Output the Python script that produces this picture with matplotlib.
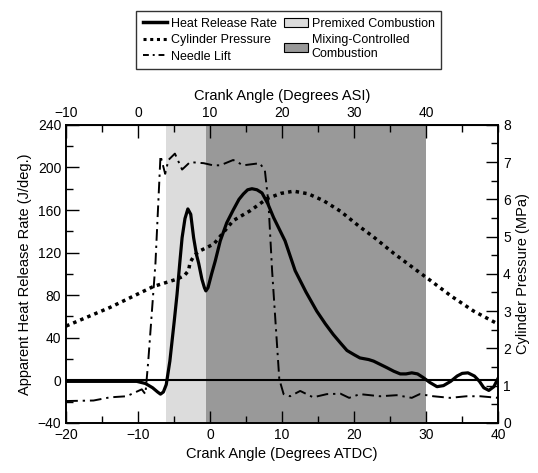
import matplotlib.pyplot as plt
from matplotlib.patches import Patch
from matplotlib.lines import Line2D
from matplotlib.ticker import MultipleLocator

plt.rcParams['font.family'] = ['Liberation Sans', 'DejaVu Sans']

# heat release rate (J/deg) vs crank angle (deg ATDC)
hrr_x = [-20, -15, -10.2, -9.0, -8.0, -7.3, -6.9, -6.5, -6.1, -5.6, -5.0, -4.6, -4.2,
         -3.9, -3.5, -3.1, -2.7, -2.3, -1.9, -1.6, -1.15, -0.8, -0.6, -0.3, 0.2, 0.7,
         1.4, 2.3, 3.2, 4.0, 4.6, 5.2, 5.8, 6.5, 7.2, 8.0, 8.8, 10.4, 11.8, 13.3,
         14.8, 16.0, 17.1, 18.1, 19.0, 20.0, 20.8, 22.0, 22.7, 23.6, 24.5, 25.5,
         26.4, 27.2, 28.0, 28.8, 29.6, 30.5, 31.5, 32.4, 33.4, 34.3, 35.0, 35.8,
         36.7, 37.4, 38.0, 38.7, 39.4, 40]
hrr_y = [-1, -1, -1, -3, -7, -11, -13, -11, -4, 18, 55, 81, 112,
         134, 152, 161, 156, 134, 118, 110, 95, 87, 84, 87, 100, 112,
         131, 148, 160, 170, 175, 179, 180, 179, 176, 166, 153, 131, 103, 83,
         65, 53, 43, 35, 28, 24, 21, 19.5, 18, 15, 12, 8.5,
         6, 6, 7, 6, 2.5, -2, -6, -5, -1, 4, 6.5, 7,
         4, -1, -7, -9.5, -6, 2]

# cylinder pressure (MPa)
p_x = [-20, -13.9, -7.9, -4.6, -3.6, -3.0, -2.8, -2.2, -1.4, 0.5, 3.2, 5.6, 7.9,
       9.8, 11.6, 13.6, 15.7, 18.1, 20.8, 22.7, 25.5, 28.7, 30.6, 33.5, 36.6, 40]
p_y = [2.6, 3.1, 3.66, 3.86, 3.95, 4.09, 4.3, 4.5, 4.62, 4.8, 5.43, 5.7, 6.02,
       6.16, 6.22, 6.15, 5.97, 5.68, 5.26, 4.99, 4.55, 4.09, 3.82, 3.4, 3.0, 2.65]

# needle lift (plotted on the HRR scale)
n_x = [-20, -16.2, -13.9, -11.6, -9.5, -9.0, -8.6, -7.6, -6.9, -6.25, -5.8, -4.9,
       -3.9, -2.8, -0.9, 0.4, 1.4, 3.2, 4.6, 6.9, 7.6, 8.1, 8.6, 9.6, 10.2, 11.1,
       12.5, 14.3, 16.2, 18.1, 19.3, 20.8, 23.6, 25.9, 28.0, 29.1, 31.0, 33.3,
       35.6, 37.5, 40]
n_y = [-19.5, -19, -16, -15, -8.5, -13, 18, 110, 211, 194, 207, 213,
       198, 205, 204, 202, 202, 207, 202, 204, 197, 166, 103, 1, -13, -15,
       -10, -16, -13, -12.6, -16.5, -13, -15, -14, -16.5, -13, -15, -16.5,
       -15, -15, -16.5]

premixed = (-6.1, -0.6)
mixing = (-0.6, 30)

fig = plt.figure(figsize=(5.38, 4.73), dpi=100)
ax = fig.add_axes([0.123, 0.106, 0.803, 0.630])

ax.axvspan(*premixed, color='#dcdcdc', lw=0, zorder=0)
ax.axvspan(*mixing, color='#999999', lw=0, zorder=0)
ax.axhline(0, color='black', lw=1.5, zorder=2)
ax.plot(hrr_x, hrr_y, color='black', lw=2.3, zorder=3, solid_joinstyle='round')
ax.plot(n_x, n_y, color='black', lw=1.4, ls=(0, (6, 2.5, 1.2, 2.5)), zorder=3)

ax.set_xlim(-20, 40)
ax.set_ylim(-40, 240)
ax.xaxis.set_major_locator(MultipleLocator(10))
ax.xaxis.set_minor_locator(MultipleLocator(5))
ax.yaxis.set_major_locator(MultipleLocator(40))
ax.yaxis.set_minor_locator(MultipleLocator(20))
ax.tick_params(which='both', direction='in', labelsize=10, top=False, right=False)
ax.tick_params(which='major', length=9, width=1)
ax.tick_params(which='minor', length=5, width=1)
ax.set_xlabel('Crank Angle (Degrees ATDC)', fontsize=10.5)
ax.set_ylabel('Apparent Heat Release Rate (J/deg.)', fontsize=10.5)

ax2 = ax.twinx()
ax2.plot(p_x, p_y, color='black', lw=2.5, ls=(0, (1, 1.2)), zorder=3)
ax2.set_ylim(0, 8)
ax2.yaxis.set_major_locator(MultipleLocator(1))
ax2.yaxis.set_minor_locator(MultipleLocator(0.5))
ax2.tick_params(which='both', direction='in', labelsize=10)
ax2.tick_params(which='major', length=9, width=1)
ax2.tick_params(which='minor', length=5, width=1)
ax2.set_ylabel('Cylinder Pressure (MPa)', fontsize=10.5)

top = ax.secondary_xaxis('top', functions=(lambda x: x + 10, lambda x: x - 10))
top.set_xticks([-10, 0, 10, 20, 30, 40])
top.xaxis.set_minor_locator(MultipleLocator(5))
top.tick_params(which='both', direction='in', labelsize=10)
top.tick_params(which='major', length=9, width=1)
top.tick_params(which='minor', length=5, width=1)
top.set_xlabel('Crank Angle (Degrees ASI)', fontsize=10.5)

for sp in list(ax.spines.values()) + list(ax2.spines.values()):
    sp.set_linewidth(1.2)

handles = [
    Line2D([], [], color='black', lw=2.5),
    Line2D([], [], color='black', lw=2.2, ls=(0, (1, 1.2))),
    Line2D([], [], color='black', lw=1.4, ls=(0, (3, 2, 1, 2))),
    Patch(facecolor='#dcdcdc', edgecolor='black', lw=0.8),
    Patch(facecolor='#999999', edgecolor='black', lw=0.8),
]
labels = ['Heat Release Rate', 'Cylinder Pressure', 'Needle Lift',
          'Premixed Combustion', 'Mixing-Controlled\nCombustion']
fig.legend(handles, labels, ncol=2, loc='upper center', bbox_to_anchor=(0.537, 0.99),
           fontsize=9, frameon=True, fancybox=False, edgecolor='black',
           handlelength=1.9, handletextpad=0.3, columnspacing=0.6, labelspacing=0.35,
           borderpad=0.55)

fig.savefig('out.png', dpi=100)
